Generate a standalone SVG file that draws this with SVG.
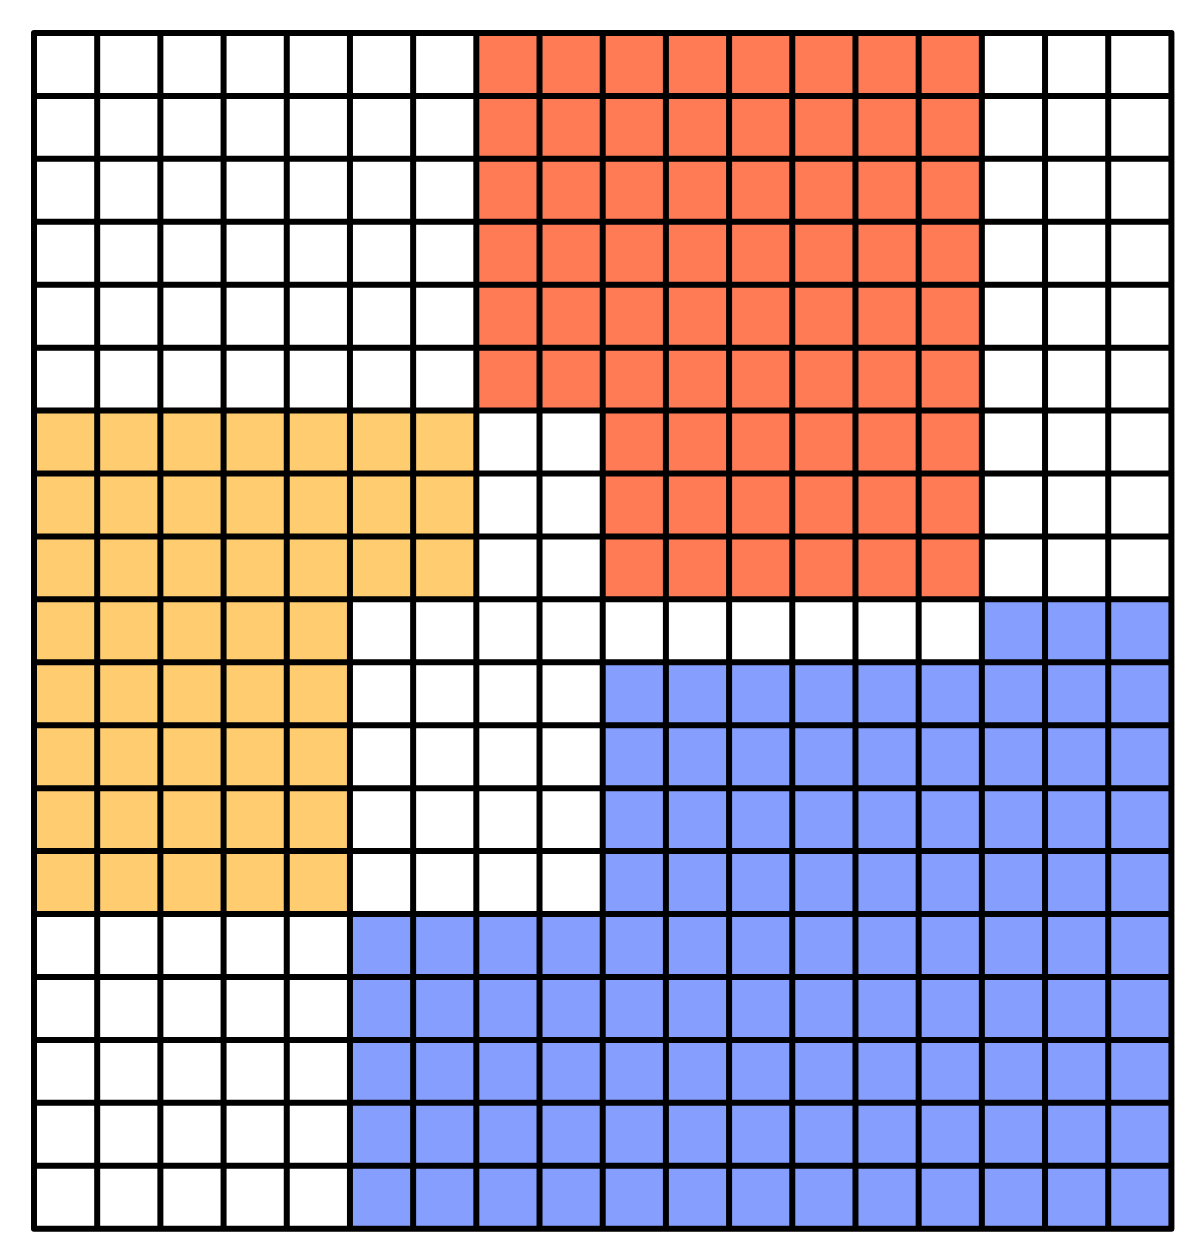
<svg xmlns="http://www.w3.org/2000/svg" width="1200" height="1252" viewBox="0 0 1200 1252">
<style>
.red{fill:#FF7B55}
.yellow{fill:#FFCD70}
.blue{fill:#869FFF}
.grid{fill:none;stroke:#000;stroke-width:6;stroke-linecap:butt}
.frame{fill:none;stroke:#000;stroke-width:6;stroke-linejoin:round}
</style>
<rect width="1200" height="1252" fill="#fff"/>
<g id="regions">
<polygon id="red" class="red" points="476.33,33 981.85,33 981.85,599.37 602.71,599.37 602.71,410.58 476.33,410.58"/>
<polygon id="yellow" class="yellow" points="34,410.58 476.33,410.58 476.33,599.37 349.95,599.37 349.95,914.02 34,914.02"/>
<polygon id="blue" class="blue" points="981.85,599.37 1171.42,599.37 1171.42,1228.67 349.95,1228.67 349.95,914.02 602.71,914.02 602.71,662.3 981.85,662.3"/>
</g>
<g id="grid">
<path class="grid" d="M97.19,33V1228.67M160.38,33V1228.67M223.57,33V1228.67M286.76,33V1228.67M349.95,33V1228.67M413.14,33V1228.67M476.33,33V1228.67M539.52,33V1228.67M602.71,33V1228.67M665.9,33V1228.67M729.09,33V1228.67M792.28,33V1228.67M855.47,33V1228.67M918.66,33V1228.67M981.85,33V1228.67M1045.04,33V1228.67M1108.23,33V1228.67"/>
<path class="grid" d="M34,95.93H1171.42M34,158.86H1171.42M34,221.79H1171.42M34,284.72H1171.42M34,347.65H1171.42M34,410.58H1171.42M34,473.51H1171.42M34,536.44H1171.42M34,599.37H1171.42M34,662.3H1171.42M34,725.23H1171.42M34,788.16H1171.42M34,851.09H1171.42M34,914.02H1171.42M34,976.95H1171.42M34,1039.88H1171.42M34,1102.81H1171.42M34,1165.74H1171.42"/>
<rect class="frame" x="34" y="33" width="1137.42" height="1195.67"/>
</g>
</svg>
